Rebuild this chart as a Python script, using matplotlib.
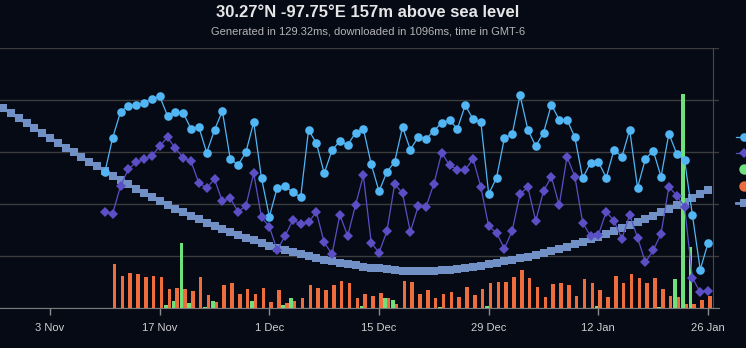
import pandas as pd
import matplotlib
matplotlib.use("Agg")
import matplotlib.pyplot as plt
import matplotlib.dates as mdates
from matplotlib.lines import Line2D

plt.rcParams['font.family'] = ['Liberation Sans', 'DejaVu Sans']

# daily values 10 Nov .. 26 Jan
temp_max = [13.06, 16.39, 18.87, 19.47, 19.51, 19.73, 20.12, 20.38, 18.51, 18.84,
            18.77, 17.26, 17.42, 14.95, 17.14, 18.96, 14.37, 13.77, 14.99, 17.88,
            12.49, 8.79, 11.58, 11.74, 11.14, 10.66, 17.14, 15.88, 12.97, 15.18,
            16.08, 15.69, 16.88, 17.26, 13.86, 11.23, 13.09, 14.08, 17.42, 15.24,
            16.46, 16.27, 17.07, 17.81, 18.07, 17.26, 19.51, 18.19, 17.88, 10.97,
            12.54, 16.34, 16.75, 20.48, 17.16, 15.59, 16.88, 19.57, 18.13, 18.13,
            16.43, 12.49, 13.99, 14.08, 12.54, 15.24, 14.54, 17.16, 11.58, 14.34,
            15.14, 12.64, 16.78, 14.85, 14.25, 8.98, 3.69, 6.26]
temp_min = [9.27, 9.08, 11.74, 13.38, 14.03, 14.31, 14.63, 15.59, 16.43, 15.37,
            14.47, 14.12, 12.03, 11.58, 12.39, 10.27, 10.59, 9.27, 9.82, 12.97,
            8.73, 7.83, 5.58, 6.93, 8.47, 8.09, 8.25, 9.24, 6.32, 5.17,
            8.98, 6.93, 9.92, 12.77, 6.29, 5.32, 7.38, 11.94, 11.04, 7.32,
            9.79, 9.75, 11.94, 14.95, 13.74, 13.31, 13.28, 14.37, 11.65, 7.85,
            7.25, 5.71, 7.44, 11.00, 11.62, 8.38, 11.26, 12.64, 9.89, 14.56,
            12.64, 8.21, 6.93, 7.03, 9.27, 8.38, 6.67, 8.98, 6.77, 4.40,
            5.55, 7.15, 11.68, 10.81, 9.75, 2.92, 1.51, 1.67]
precipitation = [0, 0, 0, 0, 0, 0, 0, 0, 0.52, 1.29,
                 12.46, 1.02, 0, 0.19, 1.29, 0, 0, 0, 0, 1.3,
                 0, 0, 0, 0.52, 1.87, 0, 0, 0, 0, 0,
                 0, 0, 0, 0.39, 0, 0, 1.87, 1.54, 0, 0,
                 0, 0, 0, 0.19, 0, 0, 0, 0, 0, 0.29,
                 0, 0, 0, 0, 0, 0, 0, 0, 0, 0,
                 0, 0, 0, 0.33, 0, 0, 0, 0, 0, 0,
                 0, 0.19, 0, 5.58, 41.2, 11.8, 0, 0]
sunshine = [0, 8.41, 6.22, 6.80, 6.55, 5.91, 6.22, 5.91, 3.72, 3.91,
            3.72, 3.22, 5.91, 2.56, 1.21, 4.49, 4.76, 2.70, 3.72, 2.70,
            3.91, 1.16, 3.41, 1.02, 1.29, 1.87, 4.37, 3.85, 3.52, 4.37,
            5.20, 4.76, 1.98, 2.70, 2.37, 2.95, 1.87, 0.71, 5.26, 5.06,
            2.70, 3.52, 1.87, 2.70, 3.02, 2.18, 4.04, 2.50, 3.60, 4.76,
            4.95, 4.95, 5.91, 7.26, 5.72, 4.04, 2.18, 4.56, 4.76, 4.43,
            2.37, 5.58, 4.87, 3.41, 2.18, 6.22, 4.87, 6.60, 5.78, 4.87,
            5.78, 3.60, 2.37, 2.06, 0.71, 0.71, 1.54, 2.37]
# daylight duration (h) 27 Oct .. 26 Jan
daylight = [11.220, 11.190, 11.159, 11.129, 11.098,
            11.068, 11.038, 11.011, 10.980, 10.950, 10.922, 10.893, 10.865, 10.839, 10.810,
            10.780, 10.754, 10.727, 10.701, 10.676, 10.652, 10.628, 10.603, 10.579, 10.557,
            10.537, 10.515, 10.494, 10.474, 10.456, 10.437, 10.419, 10.403, 10.387, 10.372,
            10.355, 10.341, 10.328, 10.315, 10.303, 10.290, 10.279, 10.269, 10.259, 10.250,
            10.242, 10.234, 10.227, 10.221, 10.216, 10.211, 10.206, 10.203, 10.201, 10.200,
            10.200, 10.201, 10.204, 10.209, 10.214, 10.219, 10.226, 10.233, 10.241, 10.250,
            10.258, 10.267, 10.277, 10.287, 10.298, 10.310, 10.322, 10.335, 10.348, 10.362,
            10.377, 10.392, 10.408, 10.424, 10.441, 10.459, 10.477, 10.496, 10.515, 10.535,
            10.556, 10.577, 10.599, 10.622, 10.645, 10.668, 10.693]

days = pd.date_range("2023-11-10", periods=len(temp_max), freq="D")
days_long = pd.date_range("2023-10-27", periods=len(daylight), freq="D")

bg = '#050a15'
c_max = '#52b5f4'
c_min = '#5b4fc6'
c_rain = '#6ee07c'
c_sun = '#ee6d3d'
c_day = '#7190c5'

W, H = 746, 348
fig = plt.figure(figsize=(W / 100, H / 100), dpi=100, facecolor=bg)
rect = [0, (H - 308) / H, 718.7 / W, (308 - 48.3) / H]

ax = fig.add_axes(rect)
ax.set_facecolor(bg)
ax_day = ax.twinx()
ax_bar = ax.twinx()
ax_t = ax.twinx()

x0 = pd.Timestamp("2023-11-03") - pd.Timedelta(days=6.383)
x1 = pd.Timestamp("2023-11-03") + pd.Timedelta(days=85.36)
for a in (ax, ax_day, ax_bar, ax_t):
    a.set_xlim(x0, x1)
    a.patch.set_visible(False)
ax.patch.set_visible(True)

# grid on bottom axis
ax.set_ylim(0, 25)
ax.set_yticks([0, 5, 10, 15, 20, 25])
ax.yaxis.grid(True, color='#3c3c3c', lw=1)
ax.tick_params(axis='y', left=False, labelleft=False)

ax.set_xticks(pd.date_range("2023-11-03", "2024-01-26", freq="14D"))
ax.xaxis.set_major_formatter(mdates.DateFormatter('%-d %b'))
ax.tick_params(axis='x', length=5, width=1, color='#8a8a8a', labelcolor='#cfcfcf',
               labelsize=8, pad=6)
for s in ('top', 'left'):
    ax.spines[s].set_visible(False)
ax.spines['bottom'].set_color('#7a7a7a')
ax.spines['right'].set_position(('axes', 713 / 718.7))
ax.spines['right'].set_color('#4a4a4a')

# daylight
ax_day.plot(days_long, daylight, color=c_day, lw=2, marker='s', ms=6, mew=0)
ax_day.set_ylim(9.975, 11.554)

# bars
off = pd.Timedelta(hours=5.5)
ax_bar.bar(days - off, precipitation, width=0.46, color=c_rain)
ax_bar.bar(days + off, sunshine, width=0.46, color=c_sun)
ax_bar.set_ylim(0, 50)

# temperatures
ax_t.plot(days, temp_max, color=c_max, lw=0.9, marker='o', ms=6.2, mew=0)
ax_t.plot(days, temp_min, color=c_min, lw=0.9, marker='D', ms=4.6, mew=0)
ax_t.set_ylim(0, 25)

for a in (ax_day, ax_bar, ax_t):
    a.set_yticks([])
    for s in a.spines.values():
        s.set_visible(False)

# legend symbols (labels fall outside the visible area in the reference)
legend_rows = [136.7, 153.3, 169.5, 185.7, 202.5]
legend_style = [
    dict(color=c_max, lw=0.9, marker='o', ms=6.2, mew=0),
    dict(color=c_min, lw=0.9, marker='D', ms=4.6, mew=0),
    dict(color=c_rain, lw=0, marker='o', ms=7.5, mew=0),
    dict(color=c_sun, lw=0, marker='o', ms=7.5, mew=0),
    dict(color=c_day, lw=2, marker='s', ms=6, mew=0),
]
for yy, st in zip(legend_rows, legend_style):
    ln = Line2D([736 / W, 744 / W, 752 / W], [1 - yy / H] * 3, markevery=[1],
                transform=fig.transFigure, **st)
    fig.add_artist(ln)

fig.text(368 / W, 1 - 12.5 / H, "30.27°N -97.75°E 157m above sea level",
         ha='center', va='center', fontsize=12, fontweight='bold', color='#e6e6e6')
fig.text(368 / W, 1 - 31 / H, "Generated in 129.32ms, downloaded in 1096ms, time in GMT-6",
         ha='center', va='center', fontsize=8, color='#b4b4b4')

fig.savefig("out.png", dpi=100, facecolor=bg)
